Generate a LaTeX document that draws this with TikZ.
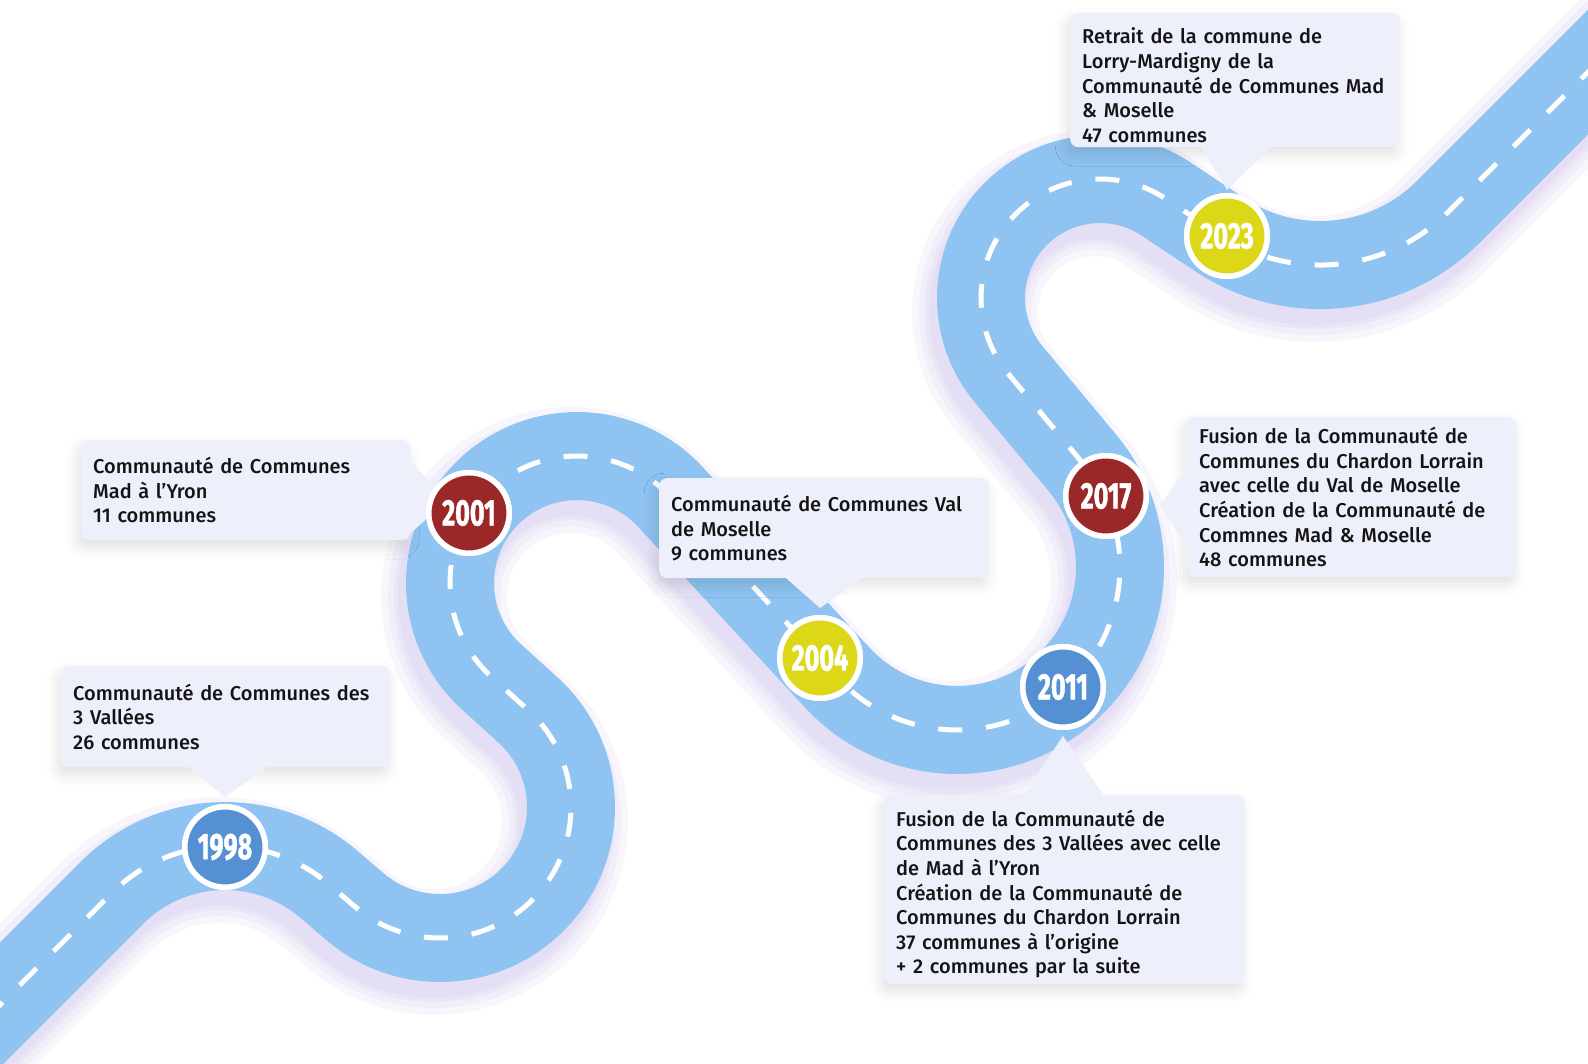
\documentclass[tikz,border=0pt]{standalone}
\usepackage{fontspec}
\setmainfont{Fira Sans}
\newfontfamily\boxfont{Fira Sans Medium}
\newfontfamily\yearfont{Fira Sans Bold}[FakeStretch=0.68, FakeBold=1.2]
\usetikzlibrary{calc,shadows.blur}

\definecolor{roadblue}{RGB}{142,195,242}
\definecolor{boxfill}{RGB}{237,239,251}
\definecolor{shadowc}{RGB}{150,130,210}
\definecolor{blueyear}{RGB}{85,145,210}
\definecolor{redyear}{RGB}{155,40,40}
\definecolor{yellowyear}{RGB}{220,216,24}
\definecolor{textc}{RGB}{20,20,20}

\tikzstyle{road} = [line width=88pt, roadblue]
\tikzstyle{roadshadow} = [shadowc, opacity=0.07, shift={(-6pt,-14pt)}]
\tikzstyle{lane} = [white, line width=5pt, dash pattern=on 24pt off 24pt]
\tikzstyle{callout} = [rectangle, rounded corners=8pt, fill=boxfill, inner xsep=12pt, inner ysep=0pt, align=left, anchor=north west, text=textc, font=\boxfont\fontsize{20}{24.6}\selectfont, blur shadow={shadow xshift=-3pt, shadow yshift=-7pt, shadow blur radius=12pt, shadow opacity=12}]
\tikzstyle{pointer} = [fill=boxfill]
\tikzstyle{year} = [circle, minimum size=80.5pt, inner sep=0pt, draw=white, line width=5.5pt, text=white, font=\yearfont\fontsize{37}{37}\selectfont]

\newcommand{\roadpath}{(-150,-91) -- (111.9,171.1)
  arc[start angle=135, end angle=49.5, radius=160] -- (354.9,157.4)
  arc[start angle=-130.5, end angle=47.85, radius=131] -- (491.8,386.8)
  arc[start angle=227.85, end angle=42.7, radius=127] -- (837.2,386.5)
  arc[start angle=-137.3, end angle=39.8, radius=163] -- (1008.6,689.8)
  arc[start angle=219.8, end angle=56.4, radius=119] -- (1219.9,829.2)
  arc[start angle=-123.6, end angle=-45, radius=181] -- (1700,1104)}

\begin{document}
\begin{tikzpicture}[x=1pt,y=1pt]
	\useasboundingbox (0,0) rectangle (1588,1064);
	\clip (0,0) rectangle (1588,1064);
	
	%Road
	\draw[roadshadow, line width=126pt] \roadpath;
	\draw[roadshadow, line width=112pt] \roadpath;
	\draw[roadshadow, line width=100pt] \roadpath;
	\draw[roadshadow, line width=92pt] \roadpath;
	\draw[road] \roadpath;
	\draw[lane] \roadpath;
	
	%Nodes
	\node[callout, text width=305pt, minimum height=101pt] (c1998) at (61,398) {Communauté de Communes des\\3 Vallées\\26 communes};
	\node[callout, text width=305pt, minimum height=100pt] (c2001) at (81,624) {Communauté de Communes\\Mad à l’Yron\\11 communes};
	\node[callout, text width=306pt, minimum height=100pt] (c2004) at (659,586) {Communauté de Communes Val\\de Moselle\\9 communes};
	\node[callout, text width=336pt, minimum height=189pt] (c2011) at (884,269) {\rule{0pt}{25pt}Fusion de la Communauté de\\Communes des 3 Vallées avec celle\\de Mad à l’Yron\\Création de la Communauté de\\Communes du Chardon Lorrain\\37 communes à l’origine\\+ 2 communes par la suite};
	\node[callout, text width=305pt, minimum height=160pt] (c2017) at (1187,647) {Fusion de la Communauté de\\Communes du Chardon Lorrain\\avec celle du Val de Moselle\\Création de la Communauté de\\Commnes Mad \& Moselle\\48 communes};
	\node[callout, text width=306pt, minimum height=134pt] (c2023) at (1070,1051) {\rule{0pt}{26pt}Retrait de la commune de\\Lorry-Mardigny de la\\Communauté de Communes Mad\\\& Moselle\\47 communes};
	
	\node[year, fill=blueyear] (y1998) at (225,217) {1998};
	\node[year, fill=redyear] (y2001) at (469,551) {2001};
	\node[year, fill=yellowyear] (y2004) at (820,406) {2004};
	\node[year, fill=blueyear] (y2011) at (1063,377) {2011};
	\node[year, fill=redyear] (y2017) at (1106,568) {2017};
	\node[year, fill=yellowyear] (y2023) at (1227,828) {2023};
	
	%Pointers
	\fill[pointer] ($(c1998.south)+(-38,1)$) -- ($(y1998.north)+(0,7)$) -- ($(c1998.south)+(42,1)$) -- cycle;
	\fill[pointer] ($(c2001.north east)+(-1,-20)$) -- ($(y2001.center)+(-22,13)$) -- ($(c2001.south east)+(-1,6)$) -- cycle;
	\fill[pointer] ($(c2004.south)+(-39,1)$) -- ($(y2004.north)+(0,7)$) -- ($(c2004.south)+(39,1)$) -- cycle;
	\fill[pointer] ($(c2011.north)+(-41,-1)$) -- ($(y2011.south)+(0,-6)$) -- ($(c2011.north)+(40,-1)$) -- cycle;
	\fill[pointer] ($(c2017.west)+(1,31)$) -- ($(y2017.east)+(11,-9)$) -- ($(c2017.west)+(1,-52)$) -- cycle;
	\fill[pointer] ($(c2023.south)+(-35,1)$) -- ($(y2023.north)+(0,3)$) -- ($(c2023.south)+(37,1)$) -- cycle;
	
	%Years on top
	\node[year, fill=blueyear] at (y1998) {1998};
	\node[year, fill=redyear] at (y2001) {2001};
	\node[year, fill=yellowyear] at (y2004) {2004};
	\node[year, fill=blueyear] at (y2011) {2011};
	\node[year, fill=redyear] at (y2017) {2017};
	\node[year, fill=yellowyear] at (y2023) {2023};
	
\end{tikzpicture}
\end{document}
